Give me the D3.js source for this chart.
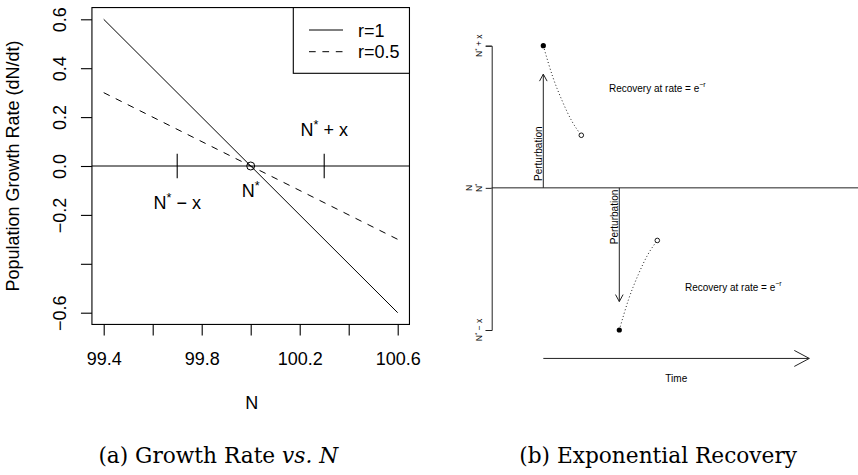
<!DOCTYPE html>
<html>
<head>
<meta charset="utf-8">
<script src="https://cdn.jsdelivr.net/npm/d3@7"></script>
<style>
  html, body { margin: 0; padding: 0; background: #fff; }
  svg { display: block; }
  .sans { font-family: "Liberation Sans", Arial, Helvetica, sans-serif; }
  .serif { font-family: "DejaVu Serif", "Liberation Serif", serif; }
</style>
</head>
<body>
<svg id="fig" width="858" height="475"></svg>
<script>
// ---- Panel (a): growth rate against population size ----
const popN = [99.4, 100.6];              // N at the ends of each line
const rateR1 = [0.6, -0.6];              // dN/dt for r = 1
const rateR05 = [0.3, -0.3];             // dN/dt for r = 0.5
const seriesNames = ["r=1", "r=0.5"];
const xTicks = [99.4, 99.6, 99.8, 100.0, 100.2, 100.4, 100.6];
const xTickLabels = ["99.4", "", "99.8", "", "100.2", "", "100.6"];
const yTicks = [-0.6, -0.4, -0.2, 0.0, 0.2, 0.4, 0.6];
const yTickLabels = ["\u22120.6", "", "\u22120.2", "0.0", "0.2", "0.4", "0.6"];
const equilibrium = 100.0;               // N*
const perturbation = 0.3;                // x
const markerHalf = 0.05;                 // half height of the N* +/- x markers
const labelLow = -0.15, labelHigh = 0.15, labelEq = -0.1;

// ---- Panel (b): exponential recovery after a perturbation ----
const devTicks = [-1, 0, 1];             // N* - x, N*, N* + x
const upTime = 1, downTime = 3;          // when each perturbation happens
const arrowReach = 0.8;                  // perturbation arrow length
const upCurveT = [1, 1.25, 1.5, 1.75, 2];
const upCurveN = [1, 0.78, 0.61, 0.47, 0.37];
const downCurveT = [3, 3.25, 3.5, 3.75, 4];
const downCurveN = [-1, -0.78, -0.61, -0.47, -0.37];
const recoveryLabelPos = [[4, 0.7], [6, -0.7]];
const perturbLabelN = [0.24, -0.205];
const timeAxis = [1, 8];
const timeAxisN = -1.2;
const timeLabelPos = [4.5, -1.34];

const svg = d3.select("#fig");

// Draws "base" + superscript + "rest" in the style of R plotmath.
function mathText(sel, base, sup, rest, fs) {
  sel.append("tspan").text(base);
  sel.append("tspan").attr("font-size", fs * 0.7).attr("dy", -fs * 0.38).text(sup);
  sel.append("tspan").attr("dy", fs * 0.38).text(rest);
  return sel;
}

// ================= Panel (a) =================
const x = d3.scaleLinear().domain([99.4, 100.6]).range([103.7, 397.7]);
const y = d3.scaleLinear().domain([-0.6, 0.6]).range([312.7, 19.3]);
const pad = 0.04;
const xLo = x(99.4 - 1.2 * pad), xHi = x(100.6 + 1.2 * pad);
const yTop = y(0.6 + 1.2 * pad), yBot = y(-0.6 - 1.2 * pad);

const pa = svg.append("g").attr("class", "sans");

// plot frame
pa.append("rect")
  .attr("x", xLo).attr("y", yTop)
  .attr("width", xHi - xLo).attr("height", yBot - yTop)
  .attr("fill", "none").attr("stroke", "#000").attr("stroke-width", 1.1);

// x axis
const ax = pa.append("g").attr("transform", `translate(0,${yBot})`)
  .call(d3.axisBottom(x).tickValues(xTicks).tickSize(11).tickSizeOuter(0)
    .tickFormat((d, i) => xTickLabels[i]));
ax.select(".domain").remove();
ax.selectAll(".tick line").attr("stroke", "#000").attr("stroke-width", 1.1);
ax.selectAll(".tick text")
  .attr("y", 40.6).attr("dy", 0)
  .attr("font-size", 18).attr("fill", "#000")
  .attr("font-family", "Liberation Sans, Arial, sans-serif");

// y axis with labels parallel to the axis
const ay = pa.append("g").attr("transform", `translate(${xLo},0)`)
  .call(d3.axisLeft(y).tickValues(yTicks).tickSize(11).tickSizeOuter(0)
    .tickFormat((d, i) => yTickLabels[i]));
ay.select(".domain").remove();
ay.selectAll(".tick line").attr("stroke", "#000").attr("stroke-width", 1.1);
ay.selectAll(".tick text")
  .attr("x", 0).attr("y", 0).attr("dy", 0)
  .attr("text-anchor", "middle")
  .attr("transform", `translate(${66 - xLo},0) rotate(-90)`)
  .attr("font-size", 18).attr("fill", "#000")
  .attr("font-family", "Liberation Sans, Arial, sans-serif");

// axis titles
pa.append("text")
  .attr("x", (xLo + xHi) / 2 + 1).attr("y", 409)
  .attr("text-anchor", "middle").attr("font-size", 18).text("N");
pa.append("text")
  .attr("transform", `translate(19,${(yTop + yBot) / 2}) rotate(-90)`)
  .attr("text-anchor", "middle").attr("font-size", 18)
  .text("Population Growth Rate (dN/dt)");

// zero growth line
pa.append("line")
  .attr("x1", xLo).attr("x2", xHi).attr("y1", y(0)).attr("y2", y(0))
  .attr("stroke", "#000").attr("stroke-width", 1);

// growth-rate lines
const line = d3.line().x(d => x(d[0])).y(d => y(d[1]));
pa.append("path").datum(d3.zip(popN, rateR1))
  .attr("d", line).attr("fill", "none").attr("stroke", "#000").attr("stroke-width", 1);
pa.append("path").datum(d3.zip(popN, rateR05))
  .attr("d", line).attr("fill", "none").attr("stroke", "#000").attr("stroke-width", 1)
  .attr("stroke-dasharray", "6.7,6.7");

// perturbation markers and equilibrium point
[equilibrium - perturbation, equilibrium + perturbation].forEach(v => {
  pa.append("line")
    .attr("x1", x(v)).attr("x2", x(v))
    .attr("y1", y(-markerHalf)).attr("y2", y(markerHalf))
    .attr("stroke", "#000").attr("stroke-width", 1.1);
});
pa.append("circle")
  .attr("cx", x(equilibrium)).attr("cy", y(0)).attr("r", 4)
  .attr("fill", "none").attr("stroke", "#000").attr("stroke-width", 1);

// N* labels
mathText(pa.append("text")
  .attr("x", x(equilibrium - perturbation)).attr("y", y(labelLow) + 6.3)
  .attr("text-anchor", "middle").attr("font-size", 18), "N", "*", " \u2212 x", 18);
mathText(pa.append("text")
  .attr("x", x(equilibrium + perturbation)).attr("y", y(labelHigh) + 6.3)
  .attr("text-anchor", "middle").attr("font-size", 18), "N", "*", " + x", 18);
mathText(pa.append("text")
  .attr("x", x(equilibrium)).attr("y", y(labelEq) + 6.3)
  .attr("text-anchor", "middle").attr("font-size", 18), "N", "*", "", 18);

// legend
const lg = pa.append("g");
lg.append("rect")
  .attr("x", 293.3).attr("y", yTop)
  .attr("width", xHi - 293.3).attr("height", 73.3 - yTop)
  .attr("fill", "#fff").attr("stroke", "#000").attr("stroke-width", 1.1);
seriesNames.forEach((name, i) => {
  const ly = 30 + i * 21.7;
  lg.append("line")
    .attr("x1", 309).attr("x2", 343).attr("y1", ly).attr("y2", ly)
    .attr("stroke", "#000").attr("stroke-width", 1)
    .attr("stroke-dasharray", i === 0 ? null : "6.7,6.7");
  lg.append("text").attr("x", 358).attr("y", ly + 6.6)
    .attr("font-size", 18).text(name);
});

// ================= Panel (b) =================
const t = d3.scaleLinear().domain([0, 8]).range([505.3, 809.3]);
const n = d3.scaleLinear().domain([-1, 1]).range([330, 45.7]);
const ink = "#222";
const pb = svg.append("g").attr("class", "sans");

// deviation axis (bracket with three ticks)
const axisX = 491.7;
const bAxis = pb.append("g").attr("transform", `translate(${axisX},0)`)
  .call(d3.axisLeft(n).tickValues(devTicks).tickSize(6).tickSizeOuter(6).tickFormat(""));
bAxis.select(".domain").attr("stroke", ink).attr("stroke-width", 1);
bAxis.selectAll(".tick line").attr("stroke", ink).attr("stroke-width", 1);
const devLabels = [["N", "*", " \u2212 x"], ["N", "*", ""], ["N", "*", " + x"]];
devTicks.forEach((d, i) => {
  mathText(pb.append("text")
    .attr("transform", `translate(482,${n(d)}) rotate(-90)`)
    .attr("text-anchor", "middle").attr("font-size", 8.5).attr("fill", "#000"),
    devLabels[i][0], devLabels[i][1], devLabels[i][2], 8.5);
});
pb.append("text")
  .attr("transform", `translate(471.5,${n(0)}) rotate(-90)`)
  .attr("text-anchor", "middle").attr("font-size", 8.5).text("N");

// equilibrium line
pb.append("line")
  .attr("x1", axisX).attr("x2", 858).attr("y1", n(0)).attr("y2", n(0))
  .attr("stroke", ink).attr("stroke-width", 1);

// arrow helper: shaft plus an open head
function arrow(g, x1, y1, x2, y2, len, half) {
  g.append("line").attr("x1", x1).attr("y1", y1).attr("x2", x2).attr("y2", y2)
    .attr("stroke", ink).attr("stroke-width", 1);
  const a = Math.atan2(y2 - y1, x2 - x1);
  const p1 = [x2 - len * Math.cos(a) + half * Math.sin(a), y2 - len * Math.sin(a) - half * Math.cos(a)];
  const p2 = [x2 - len * Math.cos(a) - half * Math.sin(a), y2 - len * Math.sin(a) + half * Math.cos(a)];
  g.append("path").attr("d", `M${p1}L${x2},${y2}L${p2}`)
    .attr("fill", "none").attr("stroke", ink).attr("stroke-width", 1);
}

// perturbation arrows
arrow(pb, t(upTime), n(0), t(upTime), n(arrowReach), 7, 3.8);
arrow(pb, t(downTime), n(0), t(downTime), n(-arrowReach), 7, 3.8);

// perturbation labels
[[upTime, perturbLabelN[0]], [downTime, perturbLabelN[1]]].forEach(([tt, nn]) => {
  pb.append("text")
    .attr("transform", `translate(${t(tt) - 1.2},${n(nn)}) rotate(-90)`)
    .attr("text-anchor", "middle").attr("font-size", 10).text("Perturbation");
});

// recovery trajectories
const curve = d3.line().x(d => t(d[0])).y(d => n(d[1])).curve(d3.curveMonotoneX);
[[upCurveT, upCurveN], [downCurveT, downCurveN]].forEach(([tt, nn]) => {
  const pts = d3.zip(tt, nn);
  pb.append("path").datum(pts).attr("d", curve)
    .attr("fill", "none").attr("stroke", ink).attr("stroke-width", 1)
    .attr("stroke-dasharray", "1,2.4");
  const first = pts[0], last = pts[pts.length - 1];
  pb.append("circle").attr("cx", t(first[0])).attr("cy", n(first[1])).attr("r", 2.6)
    .attr("fill", "#000");
  pb.append("circle").attr("cx", t(last[0])).attr("cy", n(last[1])).attr("r", 2.3)
    .attr("fill", "#fff").attr("stroke", "#000").attr("stroke-width", 0.9);
});

// recovery labels
recoveryLabelPos.forEach(([tt, nn]) => {
  const tx = pb.append("text")
    .attr("x", t(tt)).attr("y", n(nn) + 3.5)
    .attr("text-anchor", "middle").attr("font-size", 10);
  tx.append("tspan").text("Recovery at rate = e");
  tx.append("tspan").attr("font-size", 7).attr("dy", -4.5).text("\u2212r");
});

// time axis
arrow(pb, t(timeAxis[0]), n(timeAxisN), t(timeAxis[1]), n(timeAxisN), 15, 8);
pb.append("text")
  .attr("x", t(timeLabelPos[0])).attr("y", n(timeLabelPos[1]) + 3.6)
  .attr("text-anchor", "middle").attr("font-size", 10).text("Time");

// ================= Captions =================
const caps = svg.append("g").attr("class", "serif").attr("fill", "#000");
const capA = caps.append("text").attr("x", 218.3).attr("y", 463).attr("text-anchor", "middle");
capA.append("tspan").text("(a) Growth Rate ");
capA.append("tspan").attr("font-style", "italic").text("vs.");
capA.append("tspan").text(" ");
capA.append("tspan").attr("font-style", "italic").text("N");
const capB = caps.append("text").attr("x", 797).attr("y", 463).attr("text-anchor", "end")
  .text("(b) Exponential Recovery");

// size both captions so caption (a) spans its measured width
capA.attr("font-size", 20);
capB.attr("font-size", 20);
const wA = capA.node().getComputedTextLength();
const fs = 20 * 240 / wA;
capA.attr("font-size", fs);
capB.attr("font-size", fs);
</script>
</body>
</html>
